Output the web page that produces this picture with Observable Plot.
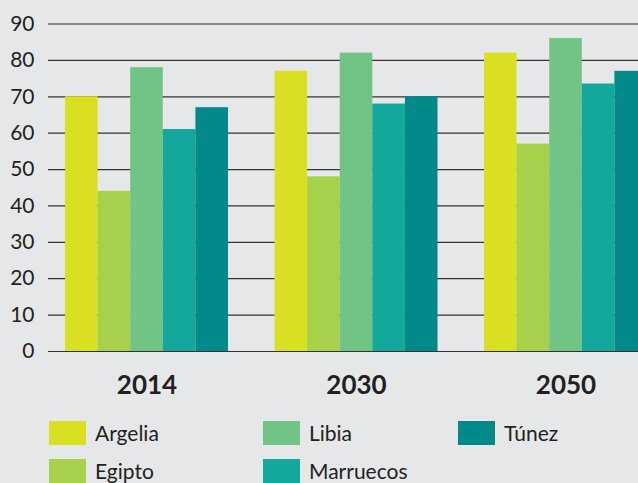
<!DOCTYPE html>
<html>
<head>
<meta charset="utf-8">
<script src="https://cdn.jsdelivr.net/npm/d3@7"></script>
<script src="https://cdn.jsdelivr.net/npm/@observablehq/plot@0.6"></script>
<style>
  html, body { margin: 0; padding: 0; background: #e6e7e8; overflow: hidden; }
  #wrap { position: relative; width: 638px; height: 483px; overflow: hidden; background: #e6e7e8; }
  #grid, #bars { position: absolute; left: 0; top: 0; }
  #grid svg text { font-family: Lato, "Open Sans", sans-serif; font-size: 21px; fill: #231f20; }
  #bars svg text { font-family: Lato, "Open Sans", sans-serif; font-size: 26px; font-weight: 700; fill: #231f20; }
  #legend {
    position: absolute; left: 49px; top: 421px;
    display: grid; grid-auto-flow: column;
    grid-template-rows: 38px 38px; grid-template-columns: 214px 195px 150px;
    font-family: Lato, "Open Sans", sans-serif; font-size: 21px; color: #231f20;
  }
  .item { display: flex; align-items: flex-start; line-height: 24px; }
  .sw { width: 37px; height: 24px; margin-right: 9px; flex: none; }
</style>
</head>
<body>
<div id="wrap">
  <div id="grid"></div>
  <div id="bars"></div>
  <div id="legend"></div>
</div>
<script>
const years = ["2014", "2030", "2050"];
const countries = ["Argelia", "Egipto", "Libia", "Marruecos", "Túnez"];
const colors = ["#d9e021", "#a8d14b", "#72c386", "#12a89b", "#028a8a"];
const argelia = [70, 77, 82];
const egipto = [44, 48, 57];
const libia = [78, 82, 86];
const marruecos = [61, 68, 73.5];
const tunez = [67, 70, 77];
const yTicks = [0, 10, 20, 30, 40, 50, 60, 70, 80, 90];

const series = [argelia, egipto, libia, marruecos, tunez];
const data = [];
years.forEach((year, i) => {
  countries.forEach((country, j) => {
    data.push({year, country, value: series[j][i]});
  });
});

const W = 638;
const yScale = {domain: [0, 90], range: [351, 23.5]};

const grid = Plot.plot({
  width: W, height: 400,
  marginLeft: 48, marginRight: 0, marginTop: 0, marginBottom: 49,
  style: {background: "transparent", overflow: "visible"},
  x: {axis: null},
  y: {...yScale, ticks: yTicks, tickSize: 0, tickPadding: 14, label: null},
  marks: [
    Plot.ruleY(yTicks, {stroke: "#333333", strokeWidth: 1.2})
  ]
});
document.getElementById("grid").appendChild(grid);

const bars = Plot.plot({
  width: W, height: 420,
  marginLeft: 48, marginRight: 0, marginTop: 0, marginBottom: 69,
  style: {background: "transparent", overflow: "hidden"},
  fx: {domain: years, range: [41.75, 670.25], paddingInner: 0.222, paddingOuter: 0.111,
       round: false, tickSize: 0, tickPadding: 24, label: null},
  x: {domain: countries, paddingInner: 0, paddingOuter: 0, round: false, axis: null},
  y: {...yScale, axis: null},
  color: {domain: countries, range: colors},
  marks: [
    Plot.barY(data, {fx: "year", x: "country", y: "value", fill: "country", inset: 0})
  ]
});
document.getElementById("bars").appendChild(bars);

const legend = document.getElementById("legend");
countries.forEach((c, i) => {
  const item = document.createElement("div");
  item.className = "item";
  const sw = document.createElement("span");
  sw.className = "sw";
  sw.style.background = colors[i];
  const t = document.createElement("span");
  t.textContent = c;
  item.appendChild(sw);
  item.appendChild(t);
  legend.appendChild(item);
});
</script>
</body>
</html>
